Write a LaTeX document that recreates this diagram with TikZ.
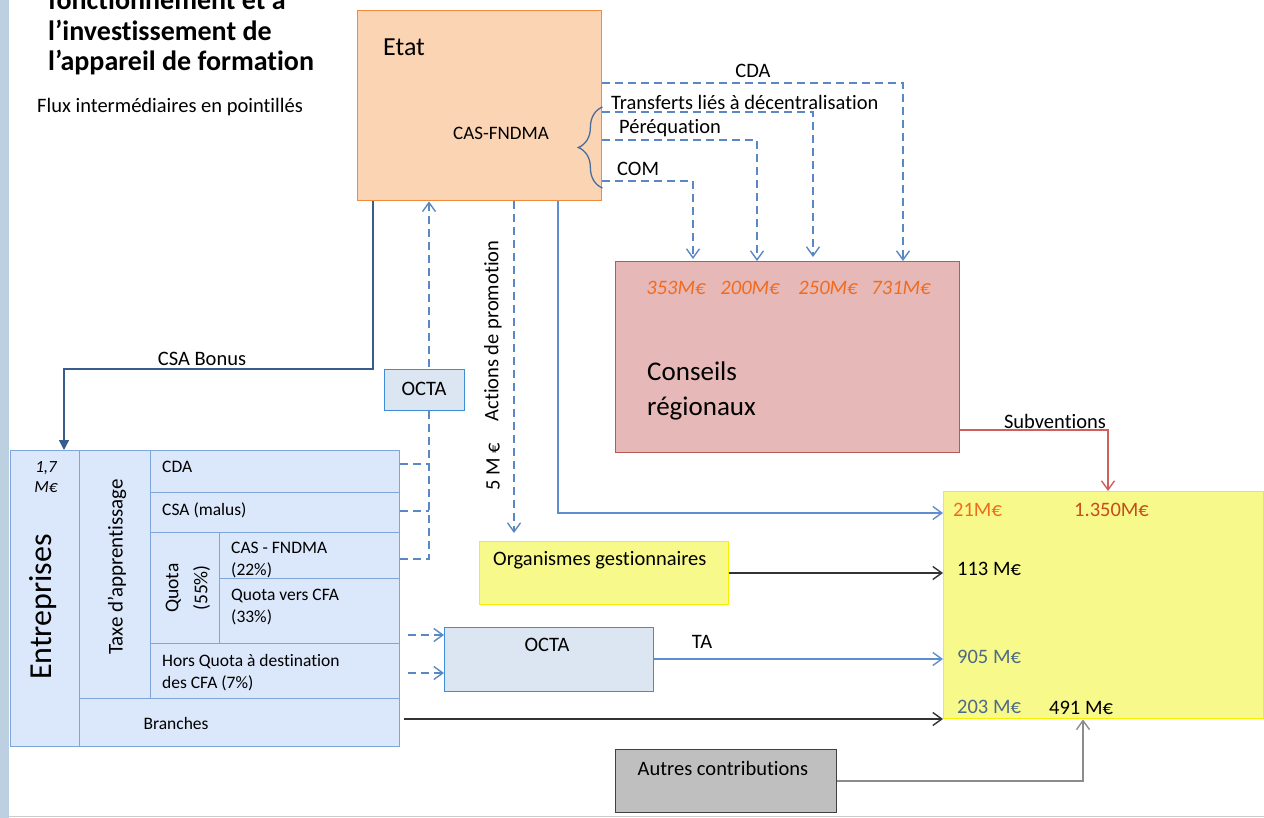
\documentclass[tikz,border=0pt]{standalone}
\usepackage{fontspec}
\setmainfont{Carlito}[Ligatures={TeX,NoCommon}]
\usetikzlibrary{arrows.meta,decorations.pathreplacing}

\definecolor{barre}{HTML}{BCD0E2}
\definecolor{etatfond}{HTML}{FBD4B4}
\definecolor{etattrait}{HTML}{F08A3C}
\definecolor{crfond}{HTML}{E6B8B7}
\definecolor{crtrait}{HTML}{B65A56}
\definecolor{jaunefond}{HTML}{F7F98A}
\definecolor{jaunetrait}{HTML}{F2F200}
\definecolor{octafond}{HTML}{DCE6F2}
\definecolor{octatrait}{HTML}{3F8DD6}
\definecolor{entfond}{HTML}{DBE7FA}
\definecolor{enttrait}{HTML}{7EA6D9}
\definecolor{pointille}{HTML}{5A88C4}
\definecolor{bleufonce}{HTML}{385D8A}
\definecolor{bleuclair}{HTML}{5E8ED2}
\definecolor{montant}{HTML}{F26B1D}
\definecolor{montantfonce}{HTML}{C84A1E}
\definecolor{montantgris}{HTML}{4D6A88}
\definecolor{rougelien}{HTML}{D0605E}
\definecolor{autresfond}{HTML}{BFBFBF}

\tikzset{
  >={Straight Barb[length=9pt,width=13pt]},
  boite/.style   = {rectangle, draw, line width=1.4pt, anchor=north west, inner sep=0},
  cellule/.style = {boite, fill=entfond, draw=enttrait},
  flux/.style    = {draw=pointille, line width=1.4pt, dash pattern=on 8pt off 5pt},
  lien/.style    = {line width=1.4pt},
  accolade/.style= {draw=pointille!80!black, line width=1.3pt, decorate, decoration={brace, amplitude=24pt}},
  titre/.style   = {font=\fontsize{28}{30}\selectfont\bfseries, inner sep=0},
  et/.style      = {font=\fontsize{20.5}{24}\selectfont, inner sep=0},
  grand/.style   = {font=\fontsize{27}{35}\selectfont, inner sep=0},
  petit/.style   = {font=\fontsize{17.5}{22}\selectfont, inner sep=0},
  somme/.style   = {font=\fontsize{20.5}{24}\selectfont, inner sep=0, anchor=west},
  chiffre/.style = {font=\fontsize{20.5}{24}\selectfont\itshape, text=montant, inner sep=0}
}

\begin{document}
\begin{tikzpicture}[x=1pt, y=-1pt]
  \path[use as bounding box] (0,0) rectangle (1264,818);
  \clip (0,0) rectangle (1264,818);
  \fill[barre] (0,0) rectangle (9,818);
  \draw[black!20, line width=1pt] (9,816) -- (1264,816);

  % titre
  \node[titre, anchor=base west] (titre1) at (48,10) {fonctionnement et à};
  \node[titre, anchor=base west] (titre2) at (48,41) {l’investissement de};
  \node[titre, anchor=base west] (titre3) at (48,71) {l’appareil de formation};
  \node[et, anchor=base west] (legende) at (37,113) {Flux intermédiaires en pointillés};

  % Etat
  \node[boite, fill=etatfond, draw=etattrait, minimum width=244pt, minimum height=190pt] (etat) at (357,10) {};
  \node[grand, font=\fontsize{26}{30}\selectfont, anchor=west] (tetat) at (383,47) {Etat};
  \node[et, font=\fontsize{19}{22}\selectfont] (tcas) at (501,133) {CAS-FNDMA};
  \draw[accolade] (etat.east |- 0,188) -- (etat.east |- 0,107);

  % Conseils regionaux
  \node[boite, fill=crfond, draw=crtrait, minimum width=344pt, minimum height=191pt] (cr) at (615,261) {};
  \node[chiffre] (m353) at (676,288) {353M€};
  \node[chiffre] (m200) at (750,288) {200M€};
  \node[chiffre] (m250) at (828,288) {250M€};
  \node[chiffre] (m731) at (901,288) {731M€};
  \node[grand, anchor=west, align=left] (tcr) at (647,391) {Conseils\\régionaux};

  % flux vers les regions
  \draw[flux,->] (etat.east |- 0,83) -| (cr.north -| 903,0);
  \node[et] (tcda) at (753,71) {CDA};
  \draw[flux,->,shorten >=4pt] (etat.east |- 0,112) -| (cr.north -| 813,0);
  \node[et, anchor=west] (ttransf) at (611,102) {Transferts liés à décentralisation};
  \draw[flux,->] (etat.east |- 0,140) -| (cr.north -| 757,0);
  \node[et, anchor=west] (tpereq) at (619,128) {Péréquation};
  \draw[flux,->,shorten >=2pt] (etat.east |- 0,181) -| (cr.north -| 693,0);
  \node[et, anchor=west] (tcom) at (617,169) {COM};

  % financement
  \node[boite, fill=jaunefond, draw=jaunetrait, minimum width=320pt, minimum height=227pt] (jaune) at (943,491) {};
  \node[somme, text=montant] (m21) at (953,510) {21M€};
  \node[somme, text=montantfonce] (m1350) at (1074,510) {1.350M€};
  \node[somme] (m113) at (957,569) {113 M€};
  \node[somme, text=montantgris] (m905) at (957,657) {905 M€};
  \node[somme, text=montantgris] (m203) at (957,707) {203 M€};
  \node[somme] (m491) at (1049,708) {491 M€};

  \draw[lien, rougelien, ->] (cr.east |- 0,430) -| (jaune.north -| 1108,0);
  \node[et] (tsubv) at (1055,421) {Subventions};

  % Entreprises
  \node[cellule, minimum width=69pt, minimum height=296pt] (ent) at (10,450) {};
  \node[cellule, minimum width=71pt, minimum height=248pt] (taxe) at (79,450) {};
  \node[cellule, minimum width=249pt, minimum height=42pt] (cdac) at (150,450) {};
  \node[cellule, minimum width=249pt, minimum height=40pt] (csac) at (150,492) {};
  \node[cellule, minimum width=69pt, minimum height=111pt] (quota) at (150,532) {};
  \node[cellule, minimum width=180pt, minimum height=46pt] (cas) at (219,532) {};
  \node[cellule, minimum width=180pt, minimum height=65pt] (qcfa) at (219,578) {};
  \node[cellule, minimum width=249pt, minimum height=55pt] (hq) at (150,643) {};
  \node[cellule, minimum width=320pt, minimum height=48pt] (branches) at (79,698) {};

  \node[petit, font=\fontsize{17}{20}\selectfont\itshape, align=center] (t17) at (46,477) {1,7\\M€};
  \node[et, font=\fontsize{32}{36}\selectfont, rotate=90] (tent) at (43,607) {Entreprises};
  \node[et, font=\fontsize{21}{24}\selectfont, rotate=90] (ttaxe) at (117,567) {Taxe d’apprentissage};
  \node[petit, anchor=west] (tcdac) at (162,467) {CDA};
  \node[petit, anchor=west] (tcsac) at (162,510) {CSA (malus)};
  \node[petit, font=\fontsize{19.5}{29}\selectfont, rotate=90, align=center] (tquota) at (188,588) {Quota\\(55\%)};
  \node[petit, anchor=west, align=left] (tcasc) at (231,560) {CAS - FNDMA\\(22\%)};
  \node[petit, anchor=west, align=left] (tqcfa) at (231,607) {Quota vers CFA\\(33\%)};
  \node[petit, anchor=west, align=left] (thq) at (162,673) {Hors Quota à destination\\des CFA (7\%)};
  \node[petit] (tbranches) at (176,723) {Branches};

  % CSA Bonus
  \coordinate (coude) at (64,369);
  \draw[lien, bleufonce, -{Triangle[length=10pt,width=10pt]}] (etat.south -| 373,0) |- (coude) -- (ent.north -| coude);
  \node[et] (tcsa) at (202,359) {CSA Bonus};

  % remontee vers l'Etat
  \coordinate (dorsale) at (429,559);
  \draw[flux,->] (cas.east |- dorsale) -| (etat.south -| dorsale);
  \draw[flux] (cdac.east |- 0,464) -- (dorsale |- 0,464);
  \draw[flux] (csac.east |- 0,511) -- (dorsale |- 0,511);
  \node[boite, fill=octafond, draw=octatrait, minimum width=80pt, minimum height=41pt] (octa1) at (384,369) {};
  \node[et] (tocta1) at (424,389) {OCTA};

  % actions de promotion
  \node[boite, fill=jaunefond, draw=jaunetrait, minimum width=249pt, minimum height=63pt] (org) at (479,541) {};
  \node[et, anchor=west] (torg) at (493,560) {Organismes gestionnaires};
  \draw[flux,->,shorten >=8pt] (etat.south -| 514,0) -- (org.north -| 514,0);
  \node[et, rotate=90] (tactions) at (493,331) {Actions de promotion};
  \node[et, rotate=90] (tcinq) at (493,467) {5 M €};

  \draw[lien, bleuclair, ->] (etat.south -| 558,0) |- (jaune.west |- 0,513);
  \draw[lien, black!80, ->] (org.east |- 0,573) -- (jaune.west |- 0,573);

  % OCTA
  \node[boite, fill=octafond, draw=octatrait, minimum width=209pt, minimum height=64pt] (octa2) at (444,627) {};
  \node[et] (tocta2) at (547,645) {OCTA};
  \coordinate (dep1) at (408,635);
  \coordinate (dep2) at (408,673);
  \draw[flux,->] (dep1) -- (octa2.west |- dep1);
  \draw[flux,->] (dep2) -- (octa2.west |- dep2);
  \draw[lien, bleuclair, ->] (octa2.east |- 0,659) -- (jaune.west |- 0,659);
  \node[et] (tta) at (702,642) {TA};

  \coordinate (dep3) at (404,719);
  \draw[lien, black!80, ->] (dep3) -- (jaune.west |- dep3);

  % autres
  \node[boite, fill=autresfond, draw=black!75, minimum width=221pt, minimum height=63pt] (autres) at (615,749) {};
  \node[et] (tautres) at (723,768) {Autres contributions};
  \draw[lien, black!45, ->] (autres.east |- 0,781) -| (jaune.south -| 1083,0);
\end{tikzpicture}
\end{document}
